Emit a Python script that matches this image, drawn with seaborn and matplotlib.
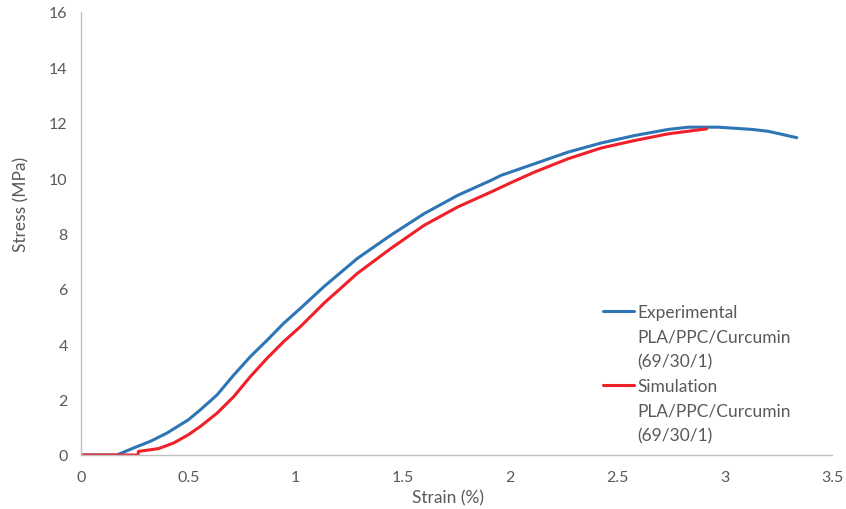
import matplotlib
matplotlib.use("Agg")
import matplotlib.pyplot as plt
from matplotlib.lines import Line2D
import seaborn as sns
import pandas as pd

exp_strain = [0, 0.167, 0.244, 0.322, 0.40, 0.50, 0.556, 0.634, 0.712, 0.79, 0.868, 0.945,
              1.023, 1.132, 1.288, 1.444, 1.60, 1.756, 1.911, 1.958, 2.114, 2.27, 2.425, 2.581,
              2.737, 2.83, 2.97, 3.126, 3.204, 3.336]
exp_stress = [0, 0, 0.25, 0.49, 0.79, 1.27, 1.63, 2.17, 2.89, 3.56, 4.15, 4.76,
              5.3, 6.08, 7.10, 7.94, 8.72, 9.38, 9.92, 10.10, 10.52, 10.94, 11.27, 11.54,
              11.76, 11.84, 11.84, 11.76, 11.69, 11.46]

sim_strain = [0, 0.265, 0.268, 0.361, 0.431, 0.5, 0.556, 0.634, 0.712, 0.79, 0.868, 0.945,
              1.023, 1.132, 1.288, 1.444, 1.60, 1.756, 1.911, 2.005, 2.114, 2.27, 2.425, 2.581,
              2.737, 2.916]
sim_stress = [0, 0, 0.13, 0.23, 0.43, 0.73, 1.03, 1.51, 2.11, 2.84, 3.50, 4.10,
              4.64, 5.48, 6.56, 7.46, 8.30, 8.96, 9.50, 9.84, 10.22, 10.70, 11.09, 11.36,
              11.60, 11.78]

series_names = ["Experimental\nPLA/PPC/Curcumin\n(69/30/1)", "Simulation\nPLA/PPC/Curcumin\n(69/30/1)"]
x_ticks = [0, 0.5, 1, 1.5, 2, 2.5, 3, 3.5]
x_tick_labels = ["0", "0.5", "1", "1.5", "2", "2.5", "3", "3.5"]
y_ticks = [0, 2, 4, 6, 8, 10, 12, 14, 16]

sns.set_style("white")
plt.rcParams["font.family"] = ["Lato", "DejaVu Sans"]

text_col = "#595959"
axis_col = "#BFBFBF"
blue = "#2E75B6"
red = "#F0202A"

df_exp = pd.DataFrame({"Strain": exp_strain, "Stress": exp_stress})
df_sim = pd.DataFrame({"Strain": sim_strain, "Stress": sim_stress})

fig = plt.figure(figsize=(8.46, 5.10), dpi=100)
ax = fig.add_axes([81 / 846, 54 / 510, 751 / 846, 443 / 510])

sns.lineplot(data=df_exp, x="Strain", y="Stress", sort=False, color=blue, lw=2.2,
             solid_joinstyle="round", solid_capstyle="round", ax=ax)
sns.lineplot(data=df_sim, x="Strain", y="Stress", sort=False, color=red, lw=2.2,
             solid_joinstyle="round", solid_capstyle="round", ax=ax)

ax.set_xlim(0, 3.5)
ax.set_ylim(0, 16)
ax.set_xticks(x_ticks)
ax.set_xticklabels(x_tick_labels)
ax.set_yticks(y_ticks)
ax.set_xlabel("Strain (%)", color=text_col, fontsize=12.5)
ax.set_ylabel("Stress (MPa)", color=text_col, fontsize=12.5)
ax.xaxis.set_label_coords(0.489, -0.077)
ax.yaxis.set_label_coords(-0.068, 0.568)

for s in ["top", "right"]:
    ax.spines[s].set_visible(False)
for s in ["left", "bottom"]:
    ax.spines[s].set_color(axis_col)
    ax.spines[s].set_linewidth(1.0)
ax.tick_params(axis="both", direction="inout", length=9, width=1.0, color=axis_col,
               labelcolor=text_col, labelsize=11.5, pad=5)
ax.tick_params(axis="x", pad=6)
ax.grid(False)

# legend: handle aligned with first line of each label
lab_lines = []
handles = []
for name, col in zip(series_names, [blue, red]):
    parts = name.split("\n")
    for i, p in enumerate(parts):
        handles.append(Line2D([], [], color=col if i == 0 else "none", lw=2.2))
        lab_lines.append(p)
leg = ax.legend(handles, lab_lines, loc="upper left", bbox_to_anchor=(0.686, 0.357),
                frameon=False, fontsize=12.5, handlelength=1.75, handletextpad=0.2,
                labelspacing=0.5, borderaxespad=0)
for t in leg.get_texts():
    t.set_color(text_col)

fig.savefig("out.png", dpi=100)
